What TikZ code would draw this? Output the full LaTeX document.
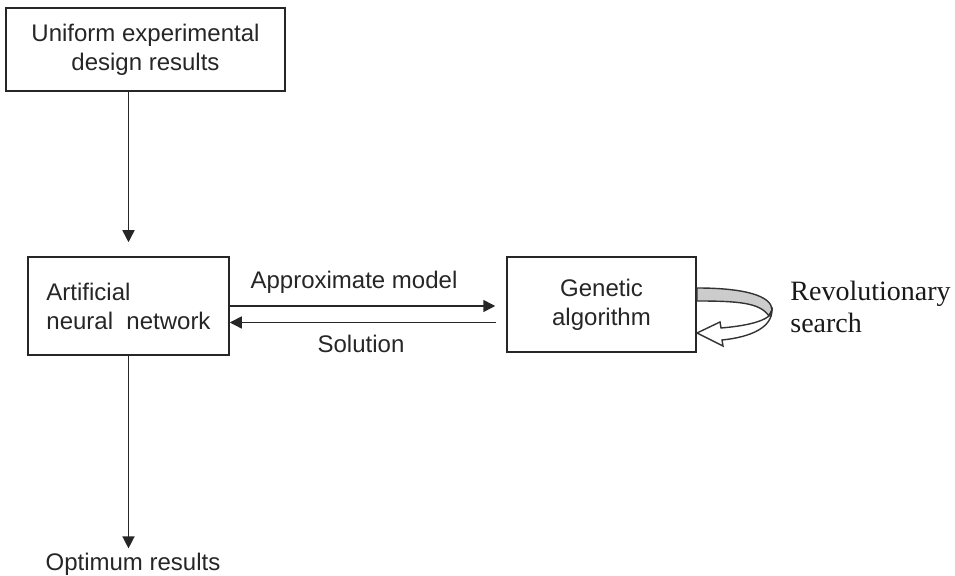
\documentclass[tikz,border=0pt]{standalone}
\usepackage{fontspec}
\setmainfont{Liberation Sans}
\newfontfamily\serifside{Liberation Serif}
\usetikzlibrary{arrows.meta,calc}

\tikzset{
  blockbox/.style={draw=black!85, line width=0.75pt, inner sep=0pt,
    font=\fontsize{12}{14.5}\selectfont, text=black!85},
  plainlabel/.style={inner sep=0pt, font=\fontsize{12}{14.5}\selectfont, text=black!85},
  flow/.style={draw=black!85, line width=0.75pt,
    -{Triangle[length=6pt,width=6pt]}},
}

\begin{document}
\begin{tikzpicture}[x=0.5pt, y=-0.5pt]
  \useasboundingbox (0,0) rectangle (955,576);

  % blocks
  \node[blockbox, minimum width=139.5pt, minimum height=41.5pt, align=center]
    (ued) at (145.5,49.5) {Uniform experimental\\design results};
  \node[blockbox, minimum width=100.5pt, minimum height=49pt, align=left]
    (ann) at (128.5,306) {Artificial\\neural\ \ network};
  \node[blockbox, minimum width=94.5pt, minimum height=47.5pt, align=center]
    (ga) at (601.5,304.5) {Genetic\\algorithm};

  % free labels
  \node[plainlabel] (opt) at (133,564) {Optimum results};
  \node[plainlabel] (approx) at (354,282) {Approximate model};
  \node[plainlabel] (sol) at (361,344) {Solution};
  \node[inner sep=0pt, anchor=west, align=left, text=black!90,
        font=\serifside\fontsize{14}{16}\selectfont]
    (rev) at (790,307) {Revolutionary\\search};

  % connectors
  \draw[flow, shorten >=7pt] (ann.north |- ued.south) -- (ann.north);
  \draw[flow] (ann.east) -- (ann.east -| ga.west) [shorten >=5.5pt];
  \draw[flow, shorten <=5pt] ([yshift=-9pt]ga.west) -- ([yshift=-9pt]ga.west -| ann.east);
  \draw[flow, shorten >=2pt] (ann.south) -- (ann.south |- opt.north);

  % circular search arrow beside the genetic algorithm block
  \draw[line width=0.7pt, draw=black!80, fill=black!20]
    (697,288) .. controls (745,288) and (772,296) .. (772,310)
    -- (769,316) .. controls (760,303) and (740,301) .. (697,301) -- cycle;
  \draw[line width=0.7pt, draw=black!80, fill=white, line join=miter]
    (772,310) .. controls (772,327) and (752,337) .. (722,340)
    -- (723,346) -- (697,333) -- (720,322) -- (721,328)
    .. controls (745,326) and (762,322) .. (769,316) -- cycle;
\end{tikzpicture}
\end{document}
